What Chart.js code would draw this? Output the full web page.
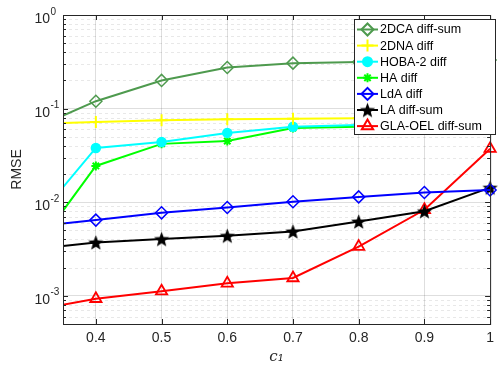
<!DOCTYPE html>
<html>
<head>
<meta charset="utf-8">
<script src="https://cdn.jsdelivr.net/npm/chart.js@4/dist/chart.umd.min.js"></script>
<style>
  html, body { margin: 0; background: #fff; }
  #wrap { width: 500px; height: 366px; }
</style>
</head>
<body>
<div id="wrap"><canvas id="chart"></canvas></div>
<script>
// c1 values (0.3 lies left of the visible range, lines are clipped there)
const c1 = [0.3, 0.4, 0.5, 0.6, 0.7, 0.8, 0.9, 1.0];
const xTicks = [0.4, 0.5, 0.6, 0.7, 0.8, 0.9, 1.0];
const yDecades = [-3, -2, -1, 0];

const rmse2DCA = [0.059, 0.120, 0.200, 0.275, 0.306, 0.315, 0.322, 0.330];
const rmse2DNA = [0.068, 0.072, 0.075, 0.077, 0.078, 0.079, 0.079, 0.080];
const rmseHOBA = [0.0055, 0.038, 0.044, 0.055, 0.064, 0.067, 0.070, 0.073];
const rmseHA   = [0.0027, 0.0244, 0.042, 0.045, 0.062, 0.064, 0.066, 0.068];
const rmseLdA  = [0.00546, 0.00644, 0.0077, 0.00877, 0.0101, 0.0114, 0.0127, 0.0135];
const rmseLA   = [0.00311, 0.00372, 0.00404, 0.00438, 0.00488, 0.00622, 0.0080, 0.0143];
const rmseGLA  = [0.00069, 0.00093, 0.00112, 0.00136, 0.00155, 0.00335, 0.0083, 0.0373];

const AXIS = '#262626';
const FONT = '"Liberation Sans", Arial, sans-serif';

// filled five-point star marker for "LA diff-sum"
function pentagram(size, color) {
  const cv = document.createElement('canvas');
  cv.width = size; cv.height = size;
  const g = cv.getContext('2d');
  const r = size / 2, ri = r * 0.4;
  g.beginPath();
  for (let i = 0; i < 10; i++) {
    const rr = i % 2 ? ri : r - 0.5;
    const a = -Math.PI / 2 + i * Math.PI / 5;
    g.lineTo(r + rr * Math.cos(a), r + 0.8 + rr * Math.sin(a));
  }
  g.closePath();
  g.fillStyle = color;
  g.fill();
  return cv;
}
const starImg = pentagram(17, '#000');

function series(label, data, color, style, opts) {
  return Object.assign({
    label: label,
    data: data.map((v, i) => ({ x: c1[i], y: v })),
    borderColor: color,
    backgroundColor: '#fff',
    pointBorderColor: color,
    pointBackgroundColor: 'rgba(0,0,0,0)',
    borderWidth: 2,
    pointStyle: style,
    pointRadius: 6,
    pointBorderWidth: 1.5,
    tension: 0,
    clip: { left: 0, top: false, right: false, bottom: 0 }
  }, opts || {});
}

const datasets = [
  series('2DCA diff-sum', rmse2DCA, '#4e9a4e', 'rectRot', { pointRadius: 6 }),
  series('2DNA diff', rmse2DNA, '#ffff00', 'cross', { pointRadius: 6, pointBorderWidth: 2 }),
  series('HOBA-2 diff', rmseHOBA, '#00ffff', 'circle', { pointRadius: 4.5, pointBackgroundColor: '#00ffff' }),
  series('HA diff', rmseHA, '#00ff00', 'star', { pointRadius: 4.5, pointBorderWidth: 2 }),
  series('LdA diff', rmseLdA, '#0000ff', 'rectRot', { pointRadius: 6 }),
  series('LA diff-sum', rmseLA, '#000000', starImg, {}),
  series('GLA-OEL diff-sum', rmseGLA, '#ff0000', 'triangle', { pointRadius: 6.5, pointBorderWidth: 1.8 })
];

const frame = {
  id: 'frame',
  beforeDatasetsDraw(chart) {
    const { ctx, chartArea: a, scales } = chart;
    const y = scales.y;
    ctx.save();
    ctx.strokeStyle = 'rgba(0,0,0,0.09)';
    ctx.lineWidth = 1;
    ctx.setLineDash([3, 3]);
    for (let e = -4; e <= 0; e++) {
      for (let m = 2; m <= 9; m++) {
        const v = m * Math.pow(10, e);
        if (v < y.min || v > y.max) continue;
        const py = Math.round(y.getPixelForValue(v)) + 0.5;
        ctx.beginPath(); ctx.moveTo(a.left, py); ctx.lineTo(a.right, py); ctx.stroke();
      }
    }
    ctx.restore();
  },
  afterDraw(chart) {
    const { ctx, chartArea: a, scales } = chart;
    const x = scales.x, y = scales.y;
    ctx.save();
    ctx.strokeStyle = AXIS;
    ctx.lineWidth = 1;
    ctx.setLineDash([]);
    ctx.strokeRect(a.left + 0.5, a.top + 0.5, a.right - a.left, a.bottom - a.top);
    // inward ticks
    ctx.beginPath();
    for (let e = -4; e <= 0; e++) {
      for (let m = 1; m <= 9; m++) {
        const v = m * Math.pow(10, e);
        if (v < y.min || v > y.max) continue;
        const py = Math.round(y.getPixelForValue(v)) + 0.5;
        const len = m === 1 ? 5 : 3;
        ctx.moveTo(a.left, py); ctx.lineTo(a.left + len, py);
        ctx.moveTo(a.right, py); ctx.lineTo(a.right - len, py);
      }
    }
    xTicks.forEach(t => {
      const px = Math.round(x.getPixelForValue(t)) + 0.5;
      ctx.moveTo(px, a.bottom); ctx.lineTo(px, a.bottom - 5);
      ctx.moveTo(px, a.top); ctx.lineTo(px, a.top + 5);
    });
    ctx.stroke();
    // y tick labels as 10 with superscript exponent
    ctx.fillStyle = AXIS;
    yDecades.forEach(e => {
      const py = y.getPixelForValue(Math.pow(10, e));
      ctx.font = '14px ' + FONT;
      ctx.textAlign = 'right';
      ctx.textBaseline = 'alphabetic';
      ctx.fillText('10', 50, py + 8);
      ctx.font = '10px ' + FONT;
      ctx.textAlign = 'left';
      ctx.fillText(String(e), 50.5, py - 0.5);
    });
    // legend box
    const bx = 354.5, by = 19.5, bw = 141, bh = 115;
    ctx.fillStyle = '#fff';
    ctx.fillRect(bx, by, bw, bh);
    ctx.strokeStyle = AXIS;
    ctx.strokeRect(bx, by, bw, bh);
    chart.data.datasets.forEach((ds, i) => {
      const ly = 29.5 + i * 16.1;
      ctx.strokeStyle = ds.borderColor;
      ctx.lineWidth = 2;
      ctx.beginPath(); ctx.moveTo(357, ly); ctx.lineTo(378, ly); ctx.stroke();
      ctx.fillStyle = ds.pointBackgroundColor;
      ctx.strokeStyle = ds.pointBorderColor;
      Chart.helpers.drawPoint(ctx, {
        pointStyle: ds.pointStyle,
        radius: ds.pointRadius,
        rotation: 0,
        borderWidth: ds.pointBorderWidth
      }, 367.5, ly);
      ctx.fillStyle = '#000';
      ctx.font = '12.5px ' + FONT;
      ctx.textAlign = 'left';
      ctx.textBaseline = 'middle';
      ctx.fillText(ds.label, 380, ly + 0.5);
    });
    ctx.restore();
  }
};

new Chart(document.getElementById('chart'), {
  type: 'line',
  data: { datasets: datasets },
  options: {
    responsive: true,
    maintainAspectRatio: false,
    animation: false,
    layout: { padding: { left: 0, right: 7, top: 15, bottom: 0 } },
    plugins: { legend: { display: false }, tooltip: { enabled: false } },
    scales: {
      x: {
        type: 'linear',
        min: 0.35,
        max: 1,
        afterBuildTicks: s => { s.ticks = xTicks.map(v => ({ value: v })); },
        afterFit: s => { s.height = 42; },
        ticks: {
          color: AXIS,
          font: { family: FONT, size: 14 },
          padding: 6,
          maxRotation: 0,
          callback: v => (v === 1 ? '1' : v.toFixed(1))
        },
        grid: { color: 'rgba(0,0,0,0.13)', drawTicks: false },
        border: { display: false },
        title: {
          display: true,
          text: 'c\u2081',
          color: AXIS,
          font: { family: '"DejaVu Serif", "Liberation Serif", serif', size: 15, style: 'italic' },
          padding: { top: -2, bottom: 0 }
        }
      },
      y: {
        type: 'logarithmic',
        min: 5e-4,
        max: 1,
        afterBuildTicks: s => { s.ticks = yDecades.map(e => ({ value: Math.pow(10, e) })); },
        afterFit: s => { s.width = 63; },
        ticks: { display: false },
        grid: { color: 'rgba(0,0,0,0.13)', drawTicks: false },
        border: { display: false },
        title: {
          display: true,
          text: 'RMSE',
          color: AXIS,
          font: { family: FONT, size: 14 },
          padding: { top: 9, bottom: 0 }
        }
      }
    }
  },
  plugins: [frame]
});
</script>
</body>
</html>
